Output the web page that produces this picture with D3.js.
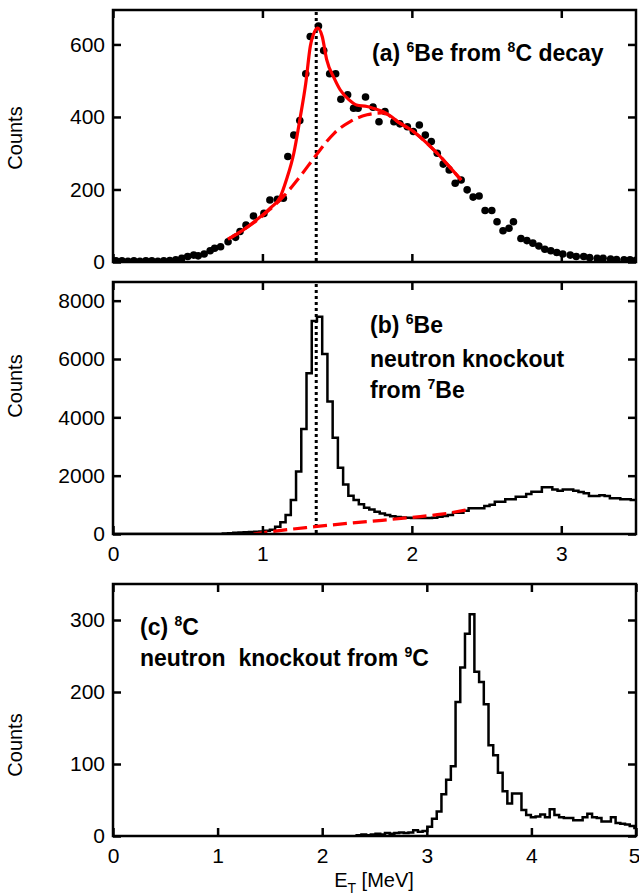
<!DOCTYPE html>
<html>
<head>
<meta charset="utf-8">
<script src="https://cdn.jsdelivr.net/npm/d3@7"></script>
<style>
  body { margin: 0; background: #fff; }
  text { font-family: "Liberation Sans", Arial, sans-serif; }
</style>
</head>
<body>
<div id="chart"></div>
<script>
// ---- panel (a): 6Be from 8C decay ----
var energyA = [0.02,0.06,0.10,0.14,0.18,0.22,0.26,0.30,0.34,0.38,0.42,
  0.46,0.50,0.54,0.57,0.61,0.65,0.68,0.72,0.77,0.82,
  0.85,0.89,0.94,1.01,1.05,1.10,1.14,1.17,1.21,1.25,
  1.29,1.32,1.375,1.41,1.45,1.49,1.525,1.57,1.61,1.64,
  1.69,1.74,1.78,1.82,1.88,1.92,1.97,2.01,2.05,2.09,
  2.13,2.17,2.21,2.25,2.29,2.33,2.37,2.41,2.45,2.49,
  2.535,2.57,2.61,2.65,2.68,2.73,2.77,2.81,2.85,2.89,
  2.93,2.97,3.01,3.06,3.10,3.15,3.19,3.24,3.28,3.33,
  3.37,3.42,3.46,3.50];
var countsA = [3,3,2,3,2,3,3,2,3,4,6,
  10,15,19,17,22,31,38,42,56,68,
  84,102,127,134,171,173,176,291,350,390,
  519,622,651,583,519,519,449,461,424,424,
  455,427,387,415,387,381,373,360,378,350,
  332,300,270,254,217,226,199,179,182,142,
  142,111,86,93,111,65,59,52,44,35,
  31,26,22,19,15,15,12,10,10,8,
  7,6,6,5];

// total fit (solid red) and background (dashed red)
var fitE = [0.77,0.87,0.96,1.05,1.12,1.16,1.21,1.25,1.29,1.32,1.35,1.37,1.40,1.43,1.48,1.52,1.58,1.63,1.70,1.74,1.83,1.92,2.01,2.10,2.19,2.26,2.33];
var fitTotal = [63,88,116,148,180,226,300,392,493,594,636,645,622,558,507,475,447,433,429,424,410,383,360,328,291,259,226];
var bgE = [0.77,0.87,0.96,1.05,1.13,1.25,1.36,1.48,1.59,1.70,1.80,1.92,2.01,2.10,2.19,2.26,2.33];
var bgA = [63,88,114,145,176,235,295,355,388,406,411,383,360,328,291,259,226];

// ---- panel (b): 6Be, neutron knockout from 7Be ----
var binWidthB = 0.035; // 100 bins from 0 to 3.5 MeV
var countsB = [0,0,0,0,0,0,0,0,0,0,0,0,0,0,0,0,0,0,0,0,0,
  20,30,40,50,60,70,80,90,110,
  150,250,400,650,1165,2140,3600,5510,7300,7450,
  6170,4540,3300,2275,1700,1315,1165,1020,900,840,
  760,700,650,610,585,570,560,550,545,545,
  550,560,595,620,650,730,730,800,880,880,
  880,960,1000,1110,1110,1190,1190,1280,1280,1370,
  1450,1450,1600,1600,1530,1485,1530,1530,1485,1440,
  1395,1300,1300,1330,1300,1225,1225,1190,1190,1165];
var bgEB = [0.94,1.10,1.35,1.60,1.80,2.00,2.20,2.36];
var bgB = [0,110,250,380,470,570,680,820];

// ---- panel (c): 8C, neutron knockout from 9C ----
var binStartC = 2.33, binWidthC = 0.045;
var countsC = [1,2,1,2,3,2,4,3,4,5,
  4,5,8,6,7,13,24,34,58,78,
  97,186,234,281,308,228,214,183,126,112,
  88,62,45,59,59,36,29,26,27,30,
  26,37,29,26,25,25,22,22,26,31,
  26,25,20,20,26,18,17,16,14,11];

var peakE = 1.36; // dotted line, 6Be ground state

var ticksAB = [0, 1, 2, 3];
var ticksC = [0, 1, 2, 3, 4, 5];
var yTicksA = [0, 200, 400, 600];
var yTicksB = [0, 2000, 4000, 6000, 8000];
var yTicksC = [0, 100, 200, 300];

// ---- drawing ----
var W = 639, H = 895;
var left = 113, right = 636;

var svg = d3.select("#chart").append("svg")
    .attr("width", W)
    .attr("height", H);
svg.append("rect").attr("width", W).attr("height", H).attr("fill", "#fff");

function histPoints(start, width, counts) {
    var pts = counts.map(function (c, i) { return [start + i * width, c]; });
    pts.unshift([start, 0]);
    pts.push([start + counts.length * width, counts[counts.length - 1]]);
    return pts;
}

function supText(sel, parts, size, supSize) {
    // parts: array of [string, "n" | "sup" | "sub"]
    var shift = 0;
    parts.forEach(function (p) {
        var dy = 0, fs = size;
        if (p[1] === "sup") { dy = -9 - shift; shift = -9; fs = supSize; }
        else if (p[1] === "sub") { dy = 6 - shift; shift = 6; fs = supSize; }
        else { dy = -shift; shift = 0; }
        sel.append("tspan").attr("dy", dy).attr("font-size", fs).text(p[0]);
    });
}

function makePanel(id, top, bottom, xDomain, yDomain, xTicks, yTicks, showXLabels, labelY) {
    var x = d3.scaleLinear().domain(xDomain).range([left, right]);
    var y = d3.scaleLinear().domain(yDomain).range([bottom, top]);
    var g = svg.append("g").attr("id", id);

    g.append("clipPath").attr("id", "clip-" + id)
      .append("rect")
        .attr("x", left).attr("y", top)
        .attr("width", right - left).attr("height", bottom - top);

    var plot = g.append("g").attr("clip-path", "url(#clip-" + id + ")");

    var fmt = d3.format("d");
    var axes = [
        g.append("g").attr("transform", "translate(0," + bottom + ")")
            .call(d3.axisBottom(x).tickValues(xTicks).tickSize(-8).tickPadding(12)
                .tickFormat(showXLabels ? fmt : "")),
        g.append("g").attr("transform", "translate(0," + top + ")")
            .call(d3.axisTop(x).tickValues(xTicks).tickSize(-8).tickFormat("")),
        g.append("g").attr("transform", "translate(" + left + ",0)")
            .call(d3.axisLeft(y).tickValues(yTicks).tickSize(-8).tickPadding(8).tickFormat(fmt)),
        g.append("g").attr("transform", "translate(" + right + ",0)")
            .call(d3.axisRight(y).tickValues(yTicks).tickSize(-8).tickFormat(""))
    ];
    axes.forEach(function (a) {
        a.select(".domain").remove();
        a.selectAll(".tick line").attr("stroke", "#000").attr("stroke-width", 2.5);
        a.selectAll(".tick text").attr("font-size", 21).attr("fill", "#000")
            .attr("font-family", "'Liberation Sans', Arial, sans-serif");
    });
    // the label at the right edge of the frame would run off the page
    axes[0].selectAll(".tick text")
        .filter(function (d) { return x(d) > right - 8; })
        .attr("text-anchor", "end").attr("x", W - right + 1);

    g.append("rect")
        .attr("x", left).attr("y", top)
        .attr("width", right - left).attr("height", bottom - top)
        .attr("fill", "none").attr("stroke", "#000").attr("stroke-width", 2.5);

    g.append("text")
        .attr("transform", "translate(22," + labelY + ") rotate(-90)")
        .attr("text-anchor", "middle")
        .attr("font-size", 20)
        .text("Counts");

    return { x: x, y: y, g: g, plot: plot };
}

function dotted(p, top, bottom) {
    p.plot.append("line")
        .attr("x1", p.x(peakE)).attr("x2", p.x(peakE))
        .attr("y1", top).attr("y2", bottom)
        .attr("stroke", "#000").attr("stroke-width", 3).attr("stroke-dasharray", "3,3");
}

// panel (a)
var pa = makePanel("pa", 10, 262, [0, 3.5], [0, 695], ticksAB, yTicksA, false, 138);
var lineA = d3.line().x(function (d) { return pa.x(d[0]); }).y(function (d) { return pa.y(d[1]); });

dotted(pa, 12, 262);

pa.plot.selectAll("circle").data(d3.zip(energyA, countsA))
  .enter().append("circle")
    .attr("cx", function (d) { return pa.x(d[0]); })
    .attr("cy", function (d) { return pa.y(d[1]); })
    .attr("r", 3.8)
    .attr("fill", "#000");

pa.plot.append("path")
    .attr("d", lineA.curve(d3.curveMonotoneX)(d3.zip(bgE, bgA)))
    .attr("fill", "none").attr("stroke", "#f00").attr("stroke-width", 3.2)
    .attr("stroke-dasharray", "14,6");
pa.plot.append("path")
    .attr("d", lineA.curve(d3.curveMonotoneX)(d3.zip(fitE, fitTotal)))
    .attr("fill", "none").attr("stroke", "#f00").attr("stroke-width", 3.2);

supText(pa.g.append("text").attr("x", 372).attr("y", 61).attr("font-weight", "bold"),
    [["(a) ", "n"], ["6", "sup"], ["Be from ", "n"], ["8", "sup"], ["C decay", "n"]], 23, 14);

// panel (b)
var pb = makePanel("pb", 282, 534, [0, 3.5], [0, 8640], ticksAB, yTicksB, true, 386);
var lineB = d3.line().x(function (d) { return pb.x(d[0]); }).y(function (d) { return pb.y(d[1]); });

pb.plot.append("path")
    .attr("d", lineB.curve(d3.curveStepAfter)(histPoints(0, binWidthB, countsB)))
    .attr("fill", "none").attr("stroke", "#000").attr("stroke-width", 2.5);

dotted(pb, 284, 534);

pb.plot.append("path")
    .attr("d", lineB.curve(d3.curveMonotoneX)(d3.zip(bgEB, bgB)))
    .attr("fill", "none").attr("stroke", "#f00").attr("stroke-width", 3.2)
    .attr("stroke-dasharray", "14,6");

supText(pb.g.append("text").attr("x", 370).attr("y", 333).attr("font-weight", "bold"),
    [["(b) ", "n"], ["6", "sup"], ["Be", "n"]], 23, 14);
pb.g.append("text").attr("x", 370).attr("y", 367).attr("font-weight", "bold")
    .attr("font-size", 23).text("neutron knockout");
supText(pb.g.append("text").attr("x", 370).attr("y", 398).attr("font-weight", "bold"),
    [["from ", "n"], ["7", "sup"], ["Be", "n"]], 23, 14);

// panel (c)
var pc = makePanel("pc", 584, 836, [0, 5], [0, 350], ticksC, yTicksC, true, 745);
var lineC = d3.line().x(function (d) { return pc.x(d[0]); }).y(function (d) { return pc.y(d[1]); });

pc.plot.append("path")
    .attr("d", lineC.curve(d3.curveStepAfter)(histPoints(binStartC, binWidthC, countsC)))
    .attr("fill", "none").attr("stroke", "#000").attr("stroke-width", 2.5);

supText(pc.g.append("text").attr("x", 140).attr("y", 635).attr("font-weight", "bold"),
    [["(c) ", "n"], ["8", "sup"], ["C", "n"]], 23, 14);
supText(pc.g.append("text").attr("x", 140).attr("y", 666).attr("font-weight", "bold")
    .style("white-space", "pre"),
    [["neutron  knockout from ", "n"], ["9", "sup"], ["C", "n"]], 23, 14);

// x axis title
supText(svg.append("text").attr("x", 374).attr("y", 887).attr("text-anchor", "middle"),
    [["E", "n"], ["T", "sub"], [" [MeV]", "n"]], 20, 14);
</script>
</body>
</html>
